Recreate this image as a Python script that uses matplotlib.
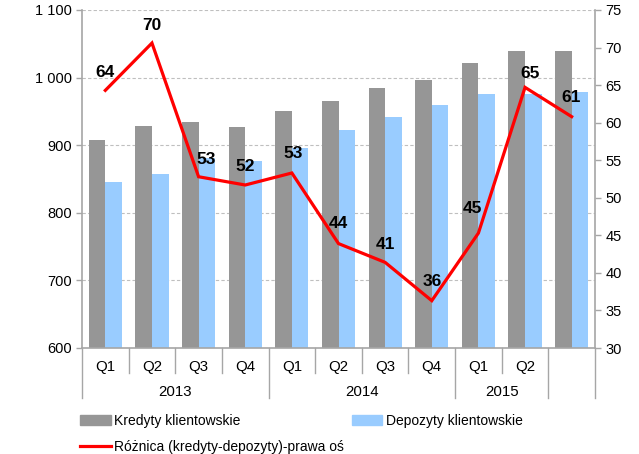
import matplotlib
matplotlib.use("Agg")
import matplotlib.pyplot as plt
import matplotlib.transforms as mtransforms
from matplotlib.lines import Line2D
from matplotlib.patches import Patch
import numpy as np

plt.rcParams['font.family'] = ['Liberation Sans', 'DejaVu Sans']

# ---- data ----
quarters = ["Q1", "Q2", "Q3", "Q4", "Q1", "Q2", "Q3", "Q4", "Q1", "Q2", ""]
years = ["2013", "2014", "2015", ""]
year_spans = [4, 4, 2, 1]
kredyty = [908, 929, 934, 927, 950, 966, 984, 996, 1021, 1040, 1040]
depozyty = [845, 857, 881, 877, 896, 922, 942, 959, 975, 975, 979]
roznica = [64.3, 70.6, 52.8, 51.7, 53.3, 43.9, 41.4, 36.3, 45.3, 64.7, 60.8]
roznica_labels = ["64", "70", "53", "52", "53", "44", "41", "36", "45", "65", "61"]
legend_labels = ["Kredyty klientowskie", "Depozyty klientowskie",
                 "Różnica (kredyty-depozyty)-prawa oś"]

# label offsets in pixels (dx, dy)
label_offsets = [(0, 18), (0, 18), (8, 17), (0, 19), (1, 19), (0, 20),
                 (0, 18), (0, 19), (-6, 25), (5, 14), (-1, 19)]

W, H = 639, 454
fig = plt.figure(figsize=(W / 100, H / 100), dpi=100)
ax = fig.add_axes([82 / W, 106 / H, (595 - 82) / W, 338 / H])
ax2 = ax.twinx()

n = len(quarters)
x = np.arange(n)
bw = 0.355
gray = "#969696"
blue = "#99CCFF"
axis_col = "#A6A6A6"

ax.bar(x - bw / 2, kredyty, width=bw, color=gray, zorder=2)
ax.bar(x + bw / 2, depozyty, width=bw, color=blue, zorder=2)
ax.set_xlim(-0.5, n - 0.5)
ax.set_ylim(600, 1100)
ax.set_yticks(np.arange(600, 1101, 100))
ax.set_yticklabels([f"{v:,}".replace(",", " ") for v in range(600, 1101, 100)])
for v in range(700, 1101, 100):
    ax.axhline(v, color="#BFBFBF", lw=0.8, ls=(0, (3, 2)), zorder=1)

ax2.plot(x, roznica, color="#FF0000", lw=2.3, zorder=5, solid_joinstyle="miter")
ax2.set_ylim(30, 75)
ax2.set_yticks(np.arange(30, 76, 5))

for i, (v, lab) in enumerate(zip(roznica, roznica_labels)):
    dx, dy = label_offsets[i]
    ax2.annotate(lab, (x[i], v), xytext=(dx * 0.72, dy * 0.72), textcoords="offset points",
                 ha="center", va="center", fontsize=12.5, fontweight="bold", color="black",
                 zorder=6)

for a in (ax, ax2):
    a.spines["top"].set_visible(False)
    for s in ("left", "right", "bottom"):
        a.spines[s].set_color(axis_col)
        a.spines[s].set_linewidth(1.2)
    a.tick_params(axis="y", colors=axis_col, labelcolor="black", labelsize=10.5,
                  length=4, width=1)
ax.spines["right"].set_visible(False)
ax2.spines["left"].set_visible(False)
ax2.spines["bottom"].set_visible(False)

ax.set_xticks([])

# multi-level x axis
trans = mtransforms.blended_transform_factory(ax.transData, ax.transAxes)
ax_h = 338.0
short = -25 / ax_h
long_ = -50 / ax_h
year_bounds = np.cumsum([0] + year_spans)
for b in range(n + 1):
    xb = b - 0.5
    y_end = long_ if b in year_bounds else short
    ax.add_line(Line2D([xb, xb], [0, y_end], transform=trans, color=axis_col,
                       lw=1.0, clip_on=False))
for i, q in enumerate(quarters):
    ax.text(x[i], -19 / ax_h, q, transform=trans, ha="center", va="center",
            fontsize=10.8)
for j, yr in enumerate(years):
    c = (year_bounds[j] + year_bounds[j + 1]) / 2 - 0.5
    ax.text(c, -44 / ax_h, yr, transform=trans, ha="center", va="center",
            fontsize=10.8)

handles = [Patch(color=gray), Line2D([0], [0], color="#FF0000", lw=2.3),
           Patch(color=blue)]
labels = [legend_labels[0], legend_labels[2], legend_labels[1]]
fig.legend(handles, labels, ncol=2, loc="upper left",
           bbox_to_anchor=(80 / W, 1 - 414 / H), frameon=False, borderpad=0,
           borderaxespad=0, fontsize=10, handlelength=2.2, handletextpad=0.25,
           columnspacing=0.55, labelspacing=0.88)

fig.savefig("out.png", dpi=100)
